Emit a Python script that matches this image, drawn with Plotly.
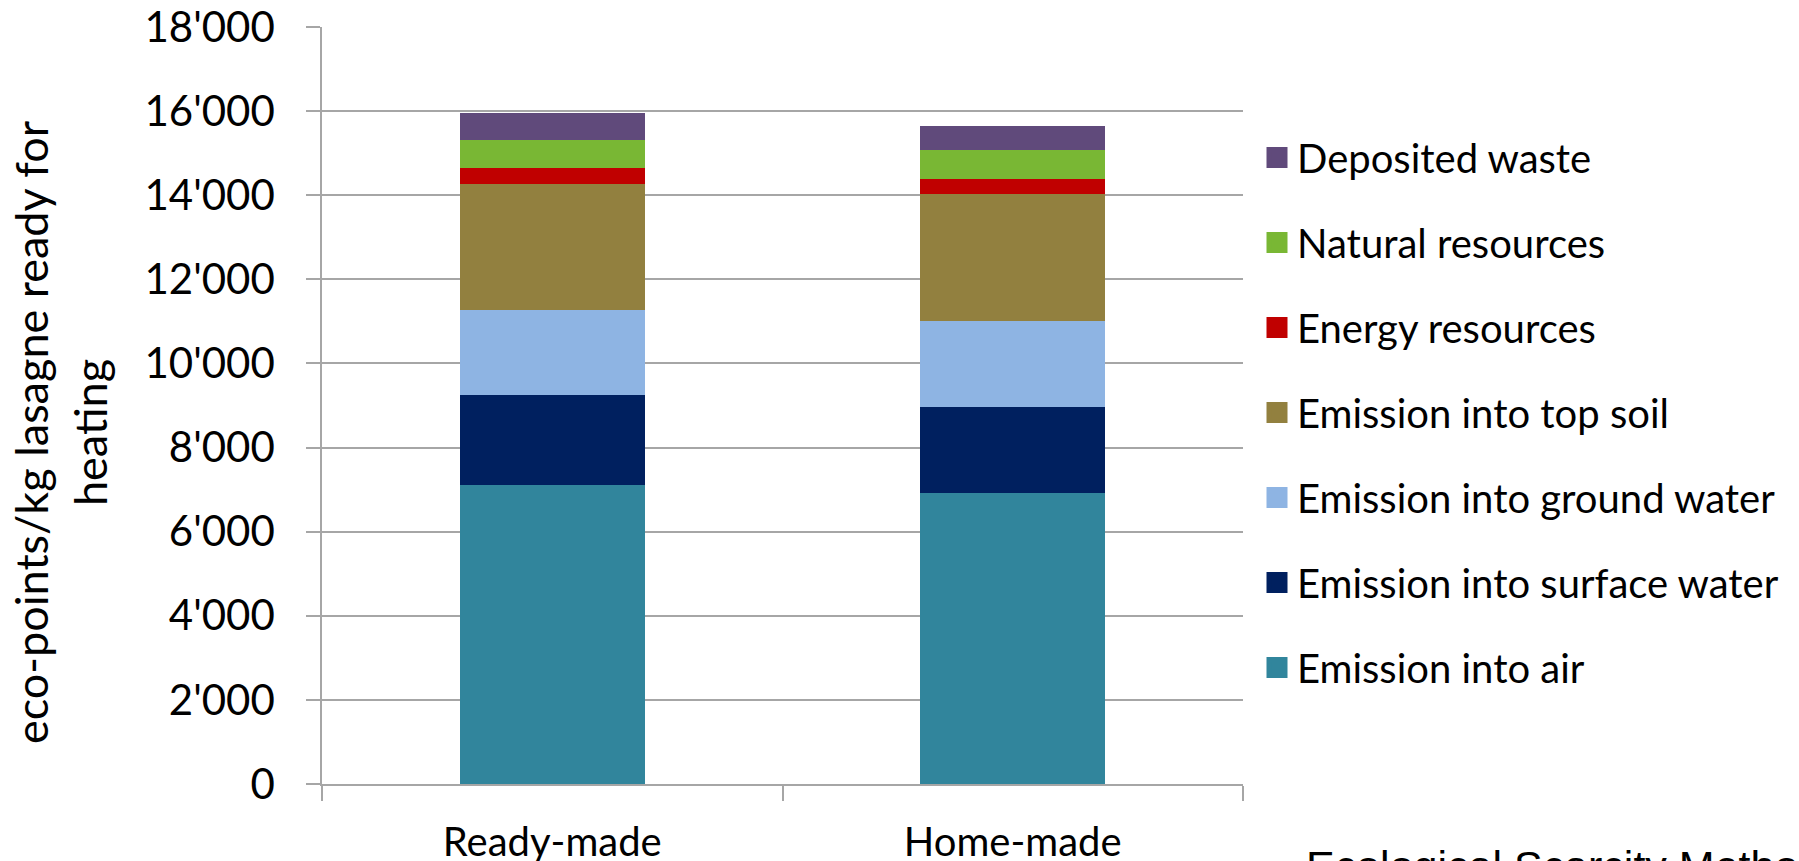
import plotly.graph_objects as go

# Products compared
products = ["Ready-made", "Home-made"]

# Eco-points per kg lasagne, split by impact category (stack order bottom -> top)
emission_air = [7100, 6930]
emission_surface_water = [2150, 2030]
emission_ground_water = [2010, 2060]
emission_top_soil = [3005, 3000]
energy_resources = [390, 357]
natural_resources = [665, 700]
deposited_waste = [640, 563]

series_names = [
    "Emission into air",
    "Emission into surface water",
    "Emission into ground water",
    "Emission into top soil",
    "Energy resources",
    "Natural resources",
    "Deposited waste",
]
series_values = [
    emission_air,
    emission_surface_water,
    emission_ground_water,
    emission_top_soil,
    energy_resources,
    natural_resources,
    deposited_waste,
]
series_colors = [
    "#31859C",
    "#00205F",
    "#8EB4E3",
    "#92803F",
    "#C00000",
    "#79B734",
    "#604A7B",
]

y_ticks = [0, 2000, 4000, 6000, 8000, 10000, 12000, 14000, 16000, 18000]

FONT = "Lato"
GRID = "#A6A6A6"

fig = go.Figure()

# Stacked bars
for name, vals, col in zip(series_names, series_values, series_colors):
    fig.add_trace(
        go.Bar(
            x=products,
            y=vals,
            name=name,
            marker=dict(color=col, line=dict(width=0)),
            showlegend=False,
        )
    )

# Legend entries (large square swatches), listed top of stack first
for i, (name, col) in enumerate(zip(series_names[::-1], series_colors[::-1])):
    fig.add_trace(
        go.Scatter(
            x=[None],
            y=[None],
            mode="markers",
            name=name,
            legendgroup=f"g{i}",
            marker=dict(symbol="square", size=16, color=col, line=dict(width=5, color=col)),
            hoverinfo="skip",
        )
    )

W, H = 1799, 861
L, R, T, B = 322, 1243, 27, 784
pw, ph = R - L, B - T


def px(x):
    return (x - L) / pw


def py(y):
    return (B - y) / ph


fig.update_layout(
    width=W,
    height=H,
    barmode="stack",
    bargap=0.598,
    separators=".'",
    paper_bgcolor="white",
    plot_bgcolor="white",
    margin=dict(l=L, r=W - R, t=T, b=H - B, pad=0, autoexpand=False),
    font=dict(family=FONT, color="black"),
    xaxis=dict(
        type="category",
        categoryorder="array",
        categoryarray=products,
        showgrid=False,
        showline=True,
        linecolor=GRID,
        linewidth=1.5,
        ticks="outside",
        tickson="boundaries",
        ticklen=15,
        tickwidth=1.5,
        tickcolor=GRID,
        tickfont=dict(size=40, family=FONT),
        ticklabelstandoff=22,
    ),
    yaxis=dict(
        range=[0, 18000],
        tickvals=y_ticks,
        tickformat=",d",
        showgrid=True,
        gridcolor=GRID,
        gridwidth=1.5,
        zeroline=False,
        showline=True,
        linecolor=GRID,
        linewidth=1.5,
        ticks="outside",
        ticklen=14,
        tickwidth=1.5,
        tickcolor=GRID,
        tickfont=dict(size=42, family=FONT),
        ticklabelstandoff=23,
    ),
    legend=dict(
        x=px(1257),
        y=py(125),
        xanchor="left",
        yanchor="top",
        traceorder="grouped",
        tracegroupgap=30,
        itemsizing="trace",
        font=dict(size=40, family=FONT),
        bgcolor="rgba(0,0,0,0)",
    ),
    showlegend=True,
)

# Vertical axis title (two centred lines)
fig.add_annotation(
    text="eco-points/kg lasagne ready for<br>heating",
    xref="paper", yref="paper",
    x=px(61), y=py(432),
    xanchor="center", yanchor="middle",
    textangle=-90, showarrow=False,
    font=dict(size=45, family=FONT),
)

# Method credit at the lower right
fig.add_annotation(
    text="Ecological Scarcity Method 2006",
    xref="paper", yref="paper",
    x=px(1304), y=py(840),
    xanchor="left", yanchor="top",
    showarrow=False,
    font=dict(size=43, family="Liberation Sans"),
)

fig.write_html("out.html")
